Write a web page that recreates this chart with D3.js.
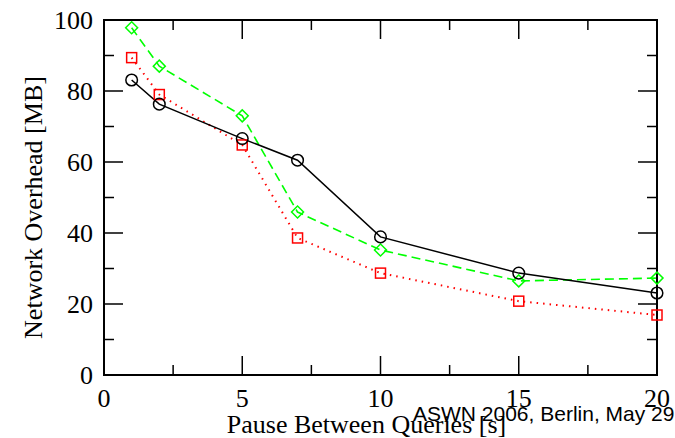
<!DOCTYPE html>
<html>
<head>
<meta charset="utf-8">
<script src="https://cdn.jsdelivr.net/npm/d3@7"></script>
<style>
  html, body { margin: 0; padding: 0; background: #fff; }
  svg { display: block; }
  .tick-label { font-family: "Liberation Serif", "Times New Roman", serif; font-size: 26px; fill: #000; }
  .axis-title { font-family: "Liberation Serif", "Times New Roman", serif; font-size: 26px; fill: #000; }
  .stamp { font-family: "Liberation Sans", Arial, sans-serif; font-size: 21px; fill: #000; }
</style>
</head>
<body>
<script>
// pause between queries (s)
var pauses = [1, 2, 5, 7, 10, 15, 20];

// network overhead (MB) per series
var overheadBlack = [83.1, 76.3, 66.6, 60.5, 38.9, 28.7, 23.1];
var overheadGreen = [97.8, 87.0, 73.0, 45.9, 35.2, 26.5, 27.3];
var overheadRed   = [89.4, 79.0, 64.8, 38.6, 28.7, 20.8, 16.9];

var xMajorTicks = [0, 5, 10, 15, 20];
var xMinorTicks = [2.5, 7.5, 12.5, 17.5];
var yMajorTicks = [0, 20, 40, 60, 80, 100];
var yMinorTicks = [10, 30, 50, 70, 90];

var W = 675, H = 438;
// plot frame (window.top is reserved, so prefixed names)
var plotLeft = 104, plotRight = 657, plotTop = 20, plotBottom = 375;

var svg = d3.select('body').append('svg')
    .attr('width', W)
    .attr('height', H);

var x = d3.scaleLinear().domain([0, 20]).range([plotLeft, plotRight]);
var y = d3.scaleLinear().domain([0, 100]).range([plotBottom, plotTop]);

// tick marks point inward on all four sides
var ticks = svg.append('g').attr('stroke', '#000').attr('stroke-width', 1.5);
function tickLines(vals, len, isX) {
    vals.forEach(function(v) {
        if (isX) {
            ticks.append('line').attr('x1', x(v)).attr('x2', x(v)).attr('y1', plotBottom).attr('y2', plotBottom - len);
            ticks.append('line').attr('x1', x(v)).attr('x2', x(v)).attr('y1', plotTop).attr('y2', plotTop + len);
        } else {
            ticks.append('line').attr('y1', y(v)).attr('y2', y(v)).attr('x1', plotLeft).attr('x2', plotLeft + len);
            ticks.append('line').attr('y1', y(v)).attr('y2', y(v)).attr('x1', plotRight).attr('x2', plotRight - len);
        }
    });
}
tickLines(xMajorTicks, 19, true);
tickLines(xMinorTicks, 10, true);
tickLines(yMajorTicks, 19, false);
tickLines(yMinorTicks, 10, false);

svg.append('rect')
    .attr('x', plotLeft).attr('y', plotTop)
    .attr('width', plotRight - plotLeft).attr('height', plotBottom - plotTop)
    .attr('fill', 'none').attr('stroke', '#000').attr('stroke-width', 2);

// tick labels
svg.append('g').selectAll('text').data(xMajorTicks).join('text')
    .attr('class', 'tick-label')
    .attr('x', function(d) { return x(d); })
    .attr('y', 407)
    .attr('text-anchor', 'middle')
    .text(function(d) { return d; });

svg.append('g').selectAll('text').data(yMajorTicks).join('text')
    .attr('class', 'tick-label')
    .attr('x', 93)
    .attr('y', function(d) { return y(d) + 9; })
    .attr('text-anchor', 'end')
    .text(function(d) { return d; });

// axis titles
svg.append('text')
    .attr('class', 'axis-title')
    .attr('x', (plotLeft + plotRight) / 2 - 14)
    .attr('y', 433)
    .attr('text-anchor', 'middle')
    .text('Pause Between Queries [s]');

svg.append('text')
    .attr('class', 'axis-title')
    .attr('transform', 'translate(42,' + ((plotTop + plotBottom) / 2 + 10) + ') rotate(-90)')
    .attr('text-anchor', 'middle')
    .text('Network Overhead [MB]');

var line = d3.line()
    .x(function(d) { return x(d[0]); })
    .y(function(d) { return y(d[1]); });

function series(vals, color, dash, width) {
    var pts = pauses.map(function(p, i) { return [p, vals[i]]; });
    svg.append('path')
        .datum(pts)
        .attr('d', line)
        .attr('fill', 'none')
        .attr('stroke', color)
        .attr('stroke-width', width)
        .attr('stroke-dasharray', dash);
    return pts;
}

var redPts = series(overheadRed, '#ff0000', '1.5,5', 2);
var greenPts = series(overheadGreen, '#00ff00', '9,5', 1.6);
var blackPts = series(overheadBlack, '#000', null, 1.5);

// markers
svg.append('g').selectAll('rect').data(redPts).join('rect')
    .attr('x', function(d) { return x(d[0]) - 5; })
    .attr('y', function(d) { return y(d[1]) - 5; })
    .attr('width', 10).attr('height', 10)
    .attr('fill', 'none').attr('stroke', '#ff0000').attr('stroke-width', 1.5);

svg.append('g').selectAll('path').data(greenPts).join('path')
    .attr('d', d3.symbol().type(d3.symbolSquare).size(72))
    .attr('transform', function(d) { return 'translate(' + x(d[0]) + ',' + y(d[1]) + ') rotate(45)'; })
    .attr('fill', 'none').attr('stroke', '#00ff00').attr('stroke-width', 1.5);

svg.append('g').selectAll('circle').data(blackPts).join('circle')
    .attr('cx', function(d) { return x(d[0]); })
    .attr('cy', function(d) { return y(d[1]); })
    .attr('r', 5.8)
    .attr('fill', 'none').attr('stroke', '#000').attr('stroke-width', 1.5);

// conference stamp
svg.append('text')
    .attr('class', 'stamp')
    .attr('x', 413)
    .attr('y', 421)
    .text('ASWN 2006, Berlin, May 29');
</script>
</body>
</html>
